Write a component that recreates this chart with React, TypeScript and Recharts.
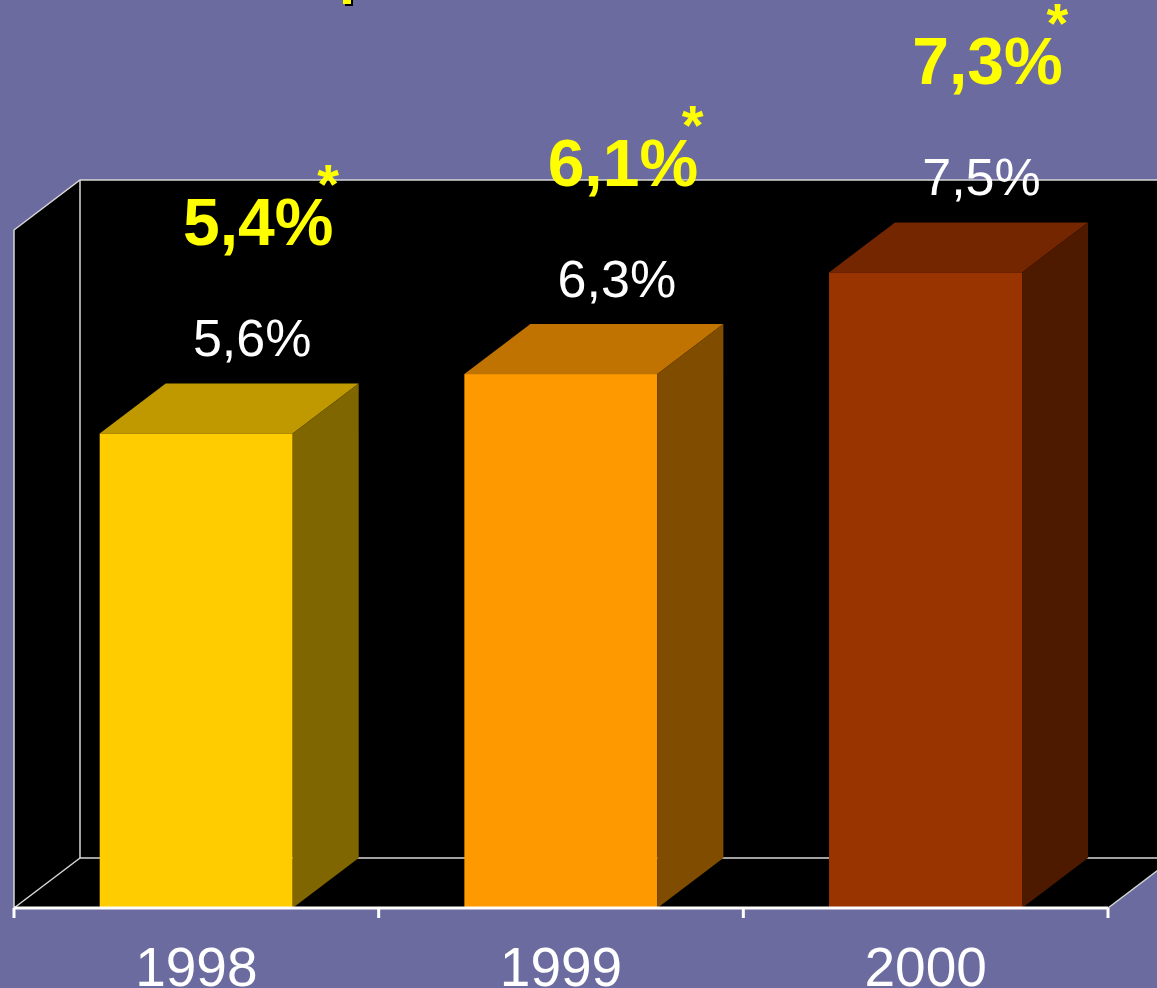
import React from 'react';
import * as R from 'recharts';

const { BarChart, Bar, XAxis, YAxis, LabelList } = R;

// data
const YEARS = ['1998', '1999', '2000'];
const RATES = [5.6, 6.3, 7.5];
const ADJUSTED = [5.4, 6.1, 7.3];

const FRONT = ['#FFCC00', '#FF9900', '#993300'];
const TOP = ['#C09900', '#C07300', '#732600'];
const SIDE = ['#806600', '#804D00', '#4D1A00'];

const data = YEARS.map((year, i) => ({ year, rate: RATES[i], adj: ADJUSTED[i] }));

// 3d depth of the box
const DX = 66;
const DY = 50;
const EDGE = '#D8D8D8';

const fmt = (v: number) => String(v).replace('.', ',') + '%';

function Frame() {
  const hook = (R as any).usePlotArea;
  const area = hook ? hook() : undefined;
  const a = area ?? { x: 14, y: 230, width: 1094, height: 678 };
  const bottom = a.y + a.height;
  const right = a.x + a.width;
  const step = a.width / YEARS.length;
  return (
    <g>
      <rect x={a.x + DX} y={a.y - DY} width={a.width} height={a.height} fill="#000" />
      <polygon
        points={`${a.x},${a.y} ${a.x + DX},${a.y - DY} ${a.x + DX},${bottom - DY} ${a.x},${bottom}`}
        fill="#000"
      />
      <polygon
        points={`${a.x},${bottom} ${a.x + DX},${bottom - DY} ${right + DX},${bottom - DY} ${right},${bottom}`}
        fill="#000"
      />
      <g stroke={EDGE} strokeWidth={1.5} fill="none">
        <polyline points={`${a.x},${bottom} ${a.x},${a.y} ${a.x + DX},${a.y - DY} ${right + DX},${a.y - DY}`} />
        <line x1={a.x + DX} y1={a.y - DY} x2={a.x + DX} y2={bottom - DY} />
        <line x1={a.x + DX} y1={bottom - DY} x2={right + DX} y2={bottom - DY} />
        <line x1={a.x} y1={bottom} x2={a.x + DX} y2={bottom - DY} />
        <line x1={right} y1={bottom} x2={right + DX} y2={bottom - DY} />
      </g>
      {Array.from({ length: YEARS.length + 1 }, (_, i) => (
        <line
          key={i}
          x1={a.x + i * step}
          y1={bottom}
          x2={a.x + i * step}
          y2={bottom + 10}
          stroke="#fff"
          strokeWidth={3}
        />
      ))}
      {/* bit of the cut-off title */}
      <rect x={345} y={-2} width={8} height={8} fill="#000" />
      <rect x={343} y={-4} width={8} height={8} fill="#FFFF00" />
    </g>
  );
}

const Box = (p: any) => {
  const { x, y, width, height } = p;
  const i = YEARS.indexOf(p.payload?.year ?? p.year);
  const r = x + width;
  const b = y + height;
  return (
    <g>
      <rect x={x} y={y} width={width} height={height} fill={FRONT[i]} />
      <polygon points={`${x},${y} ${x + DX},${y - DY} ${r + DX},${y - DY} ${r},${y}`} fill={TOP[i]} />
      <polygon points={`${r},${y} ${r + DX},${y - DY} ${r + DX},${b - DY} ${r},${b}`} fill={SIDE[i]} />
    </g>
  );
};

const RateLabel = (p: any) => {
  const { x, y, width, value } = p;
  return (
    <text
      x={x + width / 2 + 56}
      y={y - DY - 27}
      textAnchor="middle"
      fill="#fff"
      fontSize={52}
      fontFamily="'Liberation Sans', Arial, sans-serif"
    >
      {fmt(value)}
    </text>
  );
};

const AdjLabel = (p: any) => {
  const { x, y, width, value } = p;
  const cx = x + width / 2 + 62;
  const base = y - 188;
  return (
    <g fill="#FFFF00" fontFamily="'Liberation Sans', Arial, sans-serif" fontWeight="bold">
      <text x={cx} y={base} textAnchor="middle" fontSize={66}>
        {fmt(value)}
      </text>
      <text x={cx + 59} y={base - 42} textAnchor="start" fontSize={56}>
        *
      </text>
    </g>
  );
};

const YearTick = (p: any) => {
  const { x, y, payload } = p;
  return (
    <text
      x={x}
      y={y + 70}
      textAnchor="middle"
      fill="#fff"
      fontSize={55}
      fontFamily="'Liberation Sans', Arial, sans-serif"
    >
      {payload.value}
    </text>
  );
};

export default function App() {
  return (
    <div
      style={{
        position: 'absolute',
        left: 0,
        top: 0,
        width: 1157,
        height: 988,
        background: '#6B6BA0',
        overflow: 'hidden',
      }}
    >
      <BarChart
        width={1157}
        height={988}
        data={data}
        margin={{ top: 230, right: 49, left: 14, bottom: 0 }}
        barCategoryGap="23.5%"
      >
        <Frame />
        <XAxis
          dataKey="year"
          height={80}
          tickLine={false}
          axisLine={{ stroke: '#fff', strokeWidth: 3 }}
          tick={<YearTick />}
          interval={0}
        />
        <YAxis hide width={0} domain={[0, 8]} />
        <Bar dataKey="rate" shape={<Box />} isAnimationActive={false}>
          <LabelList dataKey="rate" content={<RateLabel />} />
          <LabelList dataKey="adj" content={<AdjLabel />} />
        </Bar>
      </BarChart>
    </div>
  );
}
